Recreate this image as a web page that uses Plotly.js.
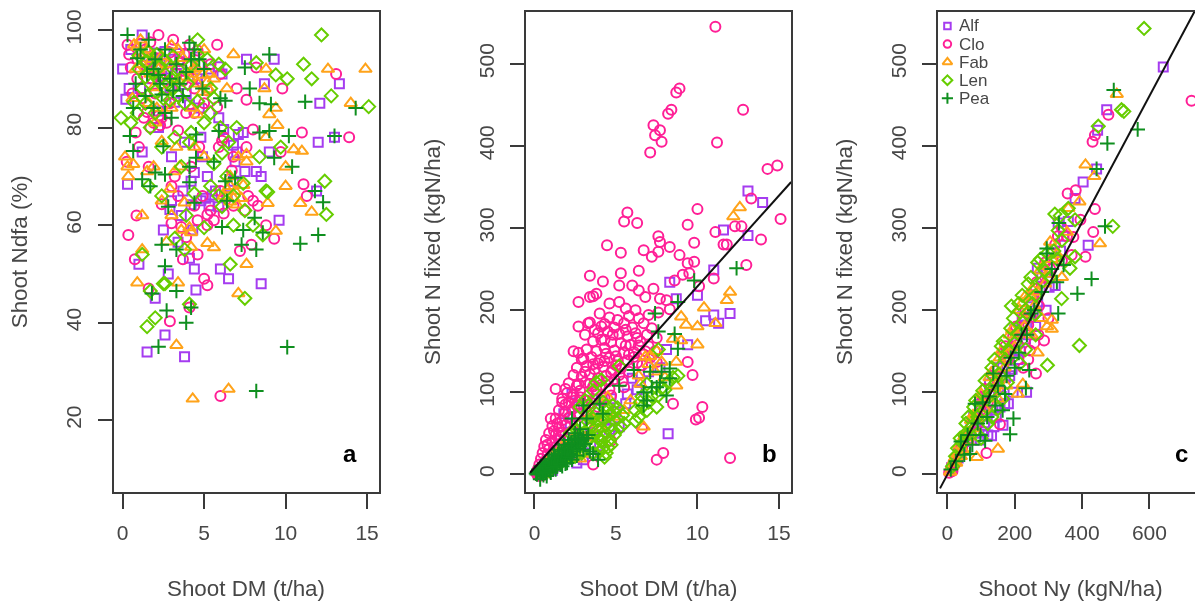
<!DOCTYPE html>
<html><head><meta charset="utf-8">
<script src="https://cdn.plot.ly/plotly-3.0.1.min.js"></script>
<style>html,body{margin:0;padding:0;width:1195px;height:601px;overflow:hidden;background:#fff}#c{width:1210px;height:601px;filter:blur(0.45px)}</style>
</head><body><div id="c"></div>
<script>
const species=["Alf","Clo","Fab","Len","Pea"];
const xTitleA="Shoot DM (t/ha)", xTitleB="Shoot DM (t/ha)", xTitleC="Shoot Ny (kgN/ha)";
const yTitleA="Shoot Ndfa (%)", yTitleB="Shoot N fixed (kgN/ha)", yTitleC="Shoot N fixed (kgN/ha)";
const panelLetters=["a","b","c"];

// Panel a: Shoot DM, Shoot Ndfa
const aAlf=[[9.3,94],[7.6,94],[13.3,89],[12.1,85],[8.7,89],[0,92],[.2,85.8],[13,78],[12,77],[5.9,82],[7.1,78.6],[9,75],[7.5,71],[8.2,71],[8.5,70],[.3,68.4],[11.9,67],[9.6,61],[2.5,59],[4.4,51],[6,51],[6.5,49],[8.5,48],[4.5,46.7],[1,52],[2,45],[2.8,50],[3,74],[1.2,75],[2.2,80],[2.6,37.5],[1.5,34],[3.8,33],
[.5,96],[1.2,99],[1.8,93],[2.3,94],[2.7,92],[3.1,94],[3.6,92],[4.4,94.5],[4.7,93],[5.3,92],[5.9,92.5],[6.1,91],[1.1,88],[1.8,90],[2.9,88],[3.9,87],[4.6,90],[5.1,89.5],[.4,88],[4.8,78],[3.8,77],[4.9,74],[5.7,67],[6.4,66],[4.8,65],[5.3,64],[3,65],[3.6,62],[4.2,69],[4.3,59],[5.2,70],[6.8,69],[7,75],[7.4,79],[6.4,66],[5.1,65.5],
[2,95.3],[2.6,95.6],[3.5,95.2],[1.6,94.6],[2.1,92.2],[3.3,91.1],[4,93.1],[2.4,90.6],[1.4,92.8],[3.2,85.2],[4.1,84.7],[4.7,84],[2.2,83.4],[6.8,76.4],[6.2,79.6],[6.9,73],[4.4,70.8],[3.7,67],[2.9,63.2],[4.2,64.2],[5.9,63.8],[5.5,66.2],[3.4,56.5],[4.1,53.2]];
const aClo=[[2.2,99],[3.1,98],[5.8,97],[8.2,92.3],[13.1,91],[7,88],[9.8,88],[7.6,85.7],[11,79],[13.9,78],[8,79.6],[6.1,77.3],[9.7,75],[1.6,72],[.25,73],[.35,58],[.85,62],[11.1,68.4],[11.3,66],[8.3,64],[9.3,57.2],[8.8,60],[7.9,56],[7.2,54.7],[5.2,60],[4.6,54],[3.7,53],[.75,53],[5,49],[5.2,47.7],[1.6,47],[6,25],[4.1,43.1],[2.9,40.3],
[.3,97],[.4,95],[.9,94],[1.4,96],[1.8,90],[2.6,93],[3.3,91],[3.8,95],[4.3,90],[4.8,93],[5.4,93],[6,91],[.6,87],[1.2,86],[4.4,88],[4.9,84],[2.9,85],[3.9,83],[4.4,83],[5,85],[1.3,82],[1.9,81],[2.4,82],[2.7,81],[1.7,80],[.8,79],[1,76],[6.2,78],[7.6,76],[6.8,74],[4.2,72],[4.4,64],[3.4,66],[2.4,64.3],[3,68],[4.9,66],[5.4,63],[5.6,61],[6,67],[7.7,66],[8,65],[6.8,64],[4.6,61],[3.2,70],[3.9,57.5],
[.5,92.3],[1.1,97.2],[1.7,97.5],[2.1,94.2],[2.9,95.4],[3.5,93.6],[4.1,97],[4.6,95.8],[2.3,90.4],[.9,90],[1.5,92],[3,88.2],[3.7,89.6],[2,87],[5.2,87.6],[5.8,84.2],[2.3,80.5],[2.2,82.4],[1.5,83.2],[3.4,79.4],[4.7,76],[5.9,76],[6.7,71.2],[7.5,63],[6.2,62.4],[5.2,62.2],[3.6,59.6],[3,60.4]];
const aFab=[[6.8,95],[12.6,92],[14.9,92],[8.8,92],[6.4,88],[8.7,88],[14,85],[9.4,84],[9,82.7],[9.5,80.5],[8.8,78],[10.5,75.5],[11,75.2],[10,72],[7.6,74.5],[7.1,74],[.35,70],[.65,72.5],[.15,74],[4.4,76],[10,68],[8.9,64.5],[10.9,64.5],[11.6,62.7],[6.8,65.5],[6.4,67.3],[1.2,62],[9.4,58.8],[2.9,67.4],[4.2,55.5],[5.2,56.3],[5.6,55.4],[1.2,55],[7.6,52],[.9,48.2],[3.4,48.2],[7.1,46],[4.1,59.5],[4.3,24.4],[6.5,26.4],[3.3,35.4],
[.7,97],[1,95],[1.5,96],[1.2,93],[.8,92],[1.8,94],[2.2,92],[2.8,93],[3.4,96],[4.2,91],[4.6,89],[5,96],[5.3,91],[5.6,90],[4.3,92],[.6,86],[1.6,85],[2.1,84],[3,84],[4.2,84],[4.6,82.7],[2,81],[3.3,76],[3.5,72],[3.2,71],[5,74],[6.6,70],[6.9,67],[7.3,65.5],[3,62],[2.4,65],[3.6,59],[4.2,58.5],[1.5,71],[1.9,72],[.3,72],[6.2,66],[7.6,73],
[1.1,98],[1.3,95],[.9,96.5],[1.7,91],[2.4,94.6],[3,96.8],[3.7,94.2],[4.1,90.2],[4.5,92.3],[4.9,90.8],[5.2,89.3],[4.9,87.3],[5.3,87.8],[1.9,88.2],[2.6,87.4],[3.4,89.8],[2.4,77.2],[6.6,68],[7,64.2],[6.6,64.8],[7.4,68.2],[3.8,64.6],[2.7,56.6]];
const aLen=[[12.2,99],[11.1,93],[11.6,90],[12.8,86.5],[15.1,84.3],[12.4,69],[12.5,62.2],[8.8,67],[10.1,90],[9.4,90.8],[8.2,93.3],[6.6,52],[7.5,45],[3.2,57.3],[1.2,54],[2.5,48],[4.1,43.8],[2,41],[1.5,39.2],[1.7,46.5],[2.6,48],
[4.6,98],[2.1,95],[1,92],[1.5,93.5],[1.9,91],[2.6,91],[3,90],[3.4,92],[4,89],[4.6,95],[5.2,94],[5.9,93],[6.3,92],[1.2,88],[2,87.5],[2.5,86],[3.1,88],[3.8,85],[5.4,88],[5.6,86],[5.4,83],[5,81],[-.1,82],[.5,81],[.9,83],[2,83],[1.7,80],[4.2,79],[3.2,78],[4.1,77],[6,80],[6.5,77],[7,80],[8.4,74],[9.7,76],[2.4,76],[3.6,72],[5.4,68],[6.4,70],[6.8,66],[7.5,63],[8,60],[8.6,58],[6.8,60],[5,59.5],[2.4,66],[1.6,68],[3.9,62],[4.4,66.5],[8.9,66.8],[3.8,55],
[1,94.8],[1.6,95.5],[2.6,93.8],[3.1,94.6],[2.3,92.6],[3.6,90.2],[4.2,92.8],[1.4,90.4],[2.8,89],[2.2,89.8],[3.4,86.6],[2.9,85.6],[4.6,85.4],[.7,85.2],[1.4,85],[6.1,74.8],[5.6,72.6],[7.4,68.6],[5.9,66],[6.1,63.8]];
const aPea=[[.3,99],[1.6,98],[4.1,97.4],[9,95],[7.5,92.3],[7.8,88],[11.2,85.3],[14.3,84],[6,86],[6.3,85.5],[8.4,85],[9.1,84.8],[.65,84],[2.4,86.8],[3.7,86.5],[1.4,86.5],[13,78.3],[10.2,78.3],[9,79.3],[8.4,79],[5.9,79.3],[4.5,78.6],[.45,78.3],[2.5,76.2],[.65,75.2],[10.4,72],[9.3,73.8],[5.6,73],[4.5,73.8],[4.1,72],[2,70.8],[2.6,70.4],[1.2,69.4],[1.7,68],[6.3,69],[6.9,69.7],[11.8,67],[12.3,64.7],[4.4,64.6],[6.4,65],[8.1,61.5],[6.1,59.6],[7.4,59],[8.6,58.5],[12,58],[10.9,56.2],[7.3,56],[8.2,55],[3.3,55],[2.4,56],[2.6,51.6],[1.8,46],[3.3,46.5],[2.7,42.5],[4.2,43.1],[3.9,40],[2.2,35.1],[10.1,35],[8.2,26],
[1.1,96],[2,94],[2.6,96],[3.3,93],[4.4,96],[5,92],[4.7,94],[1.5,91],[2.9,90],[3.5,89],[2.3,89],[.8,89],[4.9,88],[3,82],[2.6,83],[1.9,84],[1.9,92],[2.2,90.8],[3.1,87.6],[4.2,94],[.9,94.2],[3.9,91.4],[2.8,63.8],[4.1,68.8]];

// Panel b: Shoot DM, Shoot N fixed
const bAlf=[[13.1,345],[14,331],[11.6,297.5],[13.1,291],[11,249],[8.3,234],[10,218],[8.7,214],[12,196],[11,194],[10.5,187],[11.3,184],[8.2,49.6],[5.2,58],[2.3,98],[5.7,98],[6,117],[9.4,158],[7,125],[6.5,112],[4.6,55],[4,35],[3.5,26],[3,18],[2.6,14],[1.4,10],[1.1,5],[2,30],[1.6,42],[2.2,62],[1.8,74],[2.7,82],[3.2,72],[.6,12],[.9,18],[1.3,28],[5,76],[4.4,68],[3.6,48],[4.1,90],[2.9,50],[5.6,86],[6.3,103],[4.7,92],[2.5,40],[3.4,62],[8.1,152],[7.7,130]];
const bClo=[[11.1,545],[8.9,470],[8.7,465],[8.4,444],[8.2,439],[7.3,425],[7.7,419],[7.4,413],[7.8,405],[7.1,392],[12.8,444],[11.2,404],[14.9,376],[14.3,372],[15.1,311],[13.3,336],[10,323],[5.7,319],[5.5,308],[6.3,306],[9.4,304],[11.1,295],[12.3,302],[12.7,302],[11.6,280],[11.8,280],[13.9,286],[9.8,282],[7.6,290],[7.7,283],[8.3,277],[4.45,279],[5.3,270],[6.7,273],[7.6,271],[7.2,265],[8.9,267],[9.4,257],[9.8,259],[13,255],[11,238.5],[3.4,242],[4.2,235],[6.4,248],[5.3,245],[5.2,230],[6,230],[6.4,224],[7.3,226],[2.7,210],[3.4,216],[3.6,217],[3.8,220],[5.2,210],[6.8,216],[7.7,214],[8.1,212],[8.6,236],[9.1,243],[9.5,245],[10.1,229],[4,196],[5.6,202],[6.2,200],[8.3,201],[2.7,180],[3.3,184],[3.4,185],[2.7,148],[2.9,140],[2.4,150],[1.9,104],[1.3,104],[1.7,92],[1,68],[10.3,82],[10.1,69],[9.9,67],[12,20],[7.5,18],[7.9,26],[3.6,12],[8.5,86],[9.4,137],[9.7,121],[6.6,56],[4.7,41],
[4.6,191],[5.1,188],[5.8,193],[6.4,190],[7,194],[7.6,197],[4.3,183],[4.9,179],[5.5,184],[6,179],[6.7,184],[7.2,178],[3.9,172],[4.5,174],[5.2,171],[5.7,168],[6.2,172],[6.9,170],[7.5,166],[3.6,162],[4.1,164],[4.7,161],[5.3,160],[5.9,158],[6.5,162],[7,156],[3.2,152],[3.8,150],[4.3,154],[4.9,151],[5.5,148],[6.1,149],[6.7,146],[3,141],[3.5,143],[4,139],[4.6,142],[5.1,138],[5.7,139],[6.3,136],[2.6,130],[3.2,132],[3.7,128],[4.2,131],[4.8,127],[5.3,129],[5.8,125],[2.4,121],[2.9,119],[3.4,122],[3.9,117],[4.4,120],[4.9,116],[5.4,113],[2.1,111],[2.6,108],[3.1,112],[3.6,107],[4.1,109],[4.6,104],[2,99],[2.4,97],[2.8,102],[3.3,96],[3.8,98],[4.3,93],[1.7,88],[2.1,87],[2.5,90],[3,85],[3.5,87],[1.5,78],[1.9,76],[2.3,79],[2.7,74],[3.2,76],[1.3,68],[1.7,66],[2.1,69],[2.5,63],[1.1,59],[1.5,57],[1.9,60],[2.3,53],[.9,50],[1.3,48],[1.7,51],[2.1,44],[.7,42],[1.1,39],[1.5,42],[1.9,35],[.6,34],[.9,31],[1.3,33],[.5,26],[.8,24],[1.1,26],[.4,19],[.7,17],[1,19],[.3,12],[.5,10],[.8,12],[.2,6],[.4,4],[.6,6],[.1,2],[.3,-2],[.2,-1],[.5,-1],
[4.6,208],[3.1,170],[3.7,176],[4.3,164],[5.8,146],[4.4,147],[5,133],[6.4,157],[6.8,150],[7.4,150],[7.1,142],[7.5,137],[3.4,110],[4.5,113],[3.9,135],[2.8,94],[3.9,82],[3.4,68],[4.7,96],[5.5,106],
[4.1,180],[4.8,170],[5.6,176],[6.3,166],[5,144],[5.6,157],[6.1,143],[6.6,133],[4.3,138],[3.6,134],[3.1,125],[4.7,124],[5.2,121],[3.8,103],[3.2,90],[2.6,84],[2.2,70],[1.6,47],[1.2,53],[.8,36],[1.4,62],[1.9,85],[2.3,94],[2.7,110]];
const bFab=[[12.6,325],[12.2,314],[12,222],[11.8,212],[10.4,203],[9,192],[9.3,182],[10,180],[11.1,184],[10,158],[8.5,165],[9,163],[7.1,144],[6.8,143],[7.8,137],[8.7,137],[4.5,94],[3.4,72],[5.5,78],[2.8,19],[6.7,58],[7.5,150],[6.5,110],[7.4,125],[8,118],[8.7,108],[4.4,70],[3.8,62],[3.1,45],[2.6,38],[2.2,28],[1.8,22],[1.4,14],[1,8],[.5,3],[2.3,42],[3,25],[4.1,56],[4.9,70],[5.9,90],[6.4,120],[7,134],[3.5,48],[1.7,34],[1.2,24],[.8,15]];
const bLen=[[7.6,152],[5.2,132],[4.1,115],[3.1,90],[8.8,120],[6.9,110],[4.3,21],[7.5,82],[6.6,82],[7.2,95],[7.8,105],[8.2,112],[8.5,118],[6.6,95],[6.2,78],[6.4,70],[7,88],[3.8,112],[3.6,102],[2.8,82],[3.3,84],[4.2,88],[4.5,78],[4.9,76],[5.1,68],[5.5,62],[4.2,68],[4.7,60],[4.3,52],[3.9,46],[4.1,40],[3.7,36],[4.5,33],[4,28],[3.5,58],[3.1,52],[2.7,45],[2.3,36],[1.9,30],[1.5,22],[1.1,14],[.8,10],[.5,4],[3.8,74],[5.3,58],[4.9,48],[3.1,32],[2.5,22],
[4.4,84],[4.8,84],[4.6,72],[5.1,81],[5.4,72],[3.9,66],[4.4,60],[4.8,54],[4.2,46],[4.6,42],[3.6,68],[3.3,64],[3.9,54],[3.4,44],[2.9,62],[2.6,54],[2.2,50],[7.6,96],[8,103],[6.9,78],[6.2,65],[6.5,88],[4.7,36],[4.2,32],[4.4,26],[3.6,26],[2.9,26],[2.1,24],[1.7,16],[1.3,10],[.9,4]];
const bPea=[[12.4,251],[9.8,236],[8.8,210],[7.4,196],[7.6,174],[8.6,171],[8.8,153],[6.1,127],[5.2,108],[7.1,125],[7.8,125],[8.3,129],[8.3,117],[6.7,100],[7.5,106],[8.1,96],[6.7,84],[4,86],[4.2,74],[3,84],[2.3,68],[3.2,68],[7.7,112],[7.2,106],[6.9,90],
[.1,1],[.2,3],[.3,5],[.4,2],[.5,7],[.6,4],[.7,9],[.8,6],[.9,12],[1,9],[1.1,15],[1.2,11],[1.3,18],[1.4,14],[1.5,21],[1.6,16],[1.7,24],[1.8,19],[1.9,28],[2,22],[2.1,31],[2.2,25],[2.3,34],[2.4,28],[2.5,38],[2.6,31],[2.7,41],[2.8,34],[3,44],[3.1,37],[3.3,48],[3.4,28],[3.6,25],[3.9,18],[.4,10],[.6,13],[.9,18],[1.2,24],[1.5,30],[1.8,36],[2.1,42],[2.5,50],[2.8,55],[.15,0],[.35,-6],[.55,-1],[.75,-2],[1,2],[1.3,6],[1.7,10],[2,14],[2.3,18],
[.25,6],[.45,8],[.65,11],[.85,15],[1.05,19],[1.25,21],[1.45,25],[1.65,28],[1.85,32],[2.05,35],[2.25,38],[2.45,44],[2.65,47],[2.9,42],[3.2,44],[.5,1],[.7,3],[.95,5],[1.15,8],[1.4,10],[1.6,12],[1.9,13],[2.2,21],[2.6,23],[3,30]];

// Panel c: Shoot Ny, Shoot N fixed
const cAlf=[[641,496],[473,444],[446,419],[443,372],[403,356],[379,336],[359,308],[418,279],[329,306],[267,251],[235,100],[181,86],[293,200],[131,47],[320,230],
[12,8],[25,18],[40,30],[55,32],[70,60],[85,50],[100,85],[110,60],[125,110],[135,78],[150,130],[160,95],[175,150],[185,120],[200,176],[210,140],[222,192],[232,165],[250,215],[262,180],[280,240],[345,290],[310,270],[120,48],[145,70],[165,60],[195,100],
[32,20],[48,40],[64,44],[78,70],[92,66],[104,92],[116,76],[128,98],[140,112],[152,104],[164,132],[172,118],[183,140],[192,128],[204,160],[216,150],[228,182],[240,170],[255,196],[268,210],[292,246],[302,228],[336,272],[98,42],[108,52],[138,58],[156,82],[170,86]];
const cClo=[[725,455],[478,438],[438,413],[431,405],[357,342],[381,346],[438,323],[433,295],[374,289],[410,265],[369,267],[287,163],[263,123],[245,151],[116,26],[156,61],[265,234],
[5,2],[10,6],[18,14],[28,18],[38,24],[50,44],[62,42],[75,68],[90,62],[105,95],[120,88],[135,120],[150,112],[165,148],[180,140],[195,168],[210,158],[225,190],[240,182],[255,218],[272,205],[290,258],[305,250],[320,280],[340,300],[270,170],[225,130],[340,260],[355,290],[395,310],
[15,4],[22,12],[34,30],[44,32],[56,46],[68,50],[82,72],[98,78],[112,104],[128,98],[142,126],[158,120],[172,156],[188,154],[204,180],[218,172],[232,200],[248,192],[262,226],[280,228],[298,240],[312,262],[328,290],[258,160],[240,140],[300,190]];
const cFab=[[503,463],[410,377],[436,363],[392,332],[359,324],[305,283],[453,281],[150,31],[310,177],[310,188],[230,216],[224,110],[209,98],[87,21],
[8,3],[14,10],[22,20],[30,26],[40,22],[50,46],[60,40],[70,66],[82,56],[95,92],[110,80],[125,118],[140,105],[155,142],[170,130],[185,170],[200,155],[215,200],[228,180],[245,218],[258,205],[275,248],[290,232],[310,262],[325,268],[340,240],[150,92],[175,108],[355,295],
[18,16],[26,14],[36,36],[46,30],[56,52],[66,46],[76,72],[88,66],[100,98],[116,94],[130,124],[146,118],[160,150],[178,146],[192,176],[206,170],[222,208],[236,196],[252,226],[268,222],[284,254],[300,244],[296,180],[280,190],[250,170],[268,148]];
const cLen=[[584,543],[517,444],[524,442],[448,424],[319,317],[359,324],[379,310],[329,297],[491,302],[392,157],[297,133],[339,214],[364,251],[379,265],
[15,10],[30,32],[45,38],[55,62],[65,50],[78,82],[90,70],[105,102],[118,92],[132,130],[145,112],[160,156],[172,140],[188,178],[200,160],[212,208],[224,185],[240,232],[252,208],[268,258],[282,235],[298,270],[305,240],[340,285],[350,260],[335,315],[120,62],[150,80],[178,112],[215,135],[190,205],[260,195],
[24,22],[38,44],[50,48],[62,70],[72,58],[84,90],[98,74],[112,114],[126,100],[140,140],[154,122],[166,162],[182,150],[196,190],[208,172],[222,218],[236,196],[248,240],[262,218],[276,262],[290,248],[316,272],[326,262],[100,44],[132,70],[164,92],[232,152],[262,170]];
const cPea=[[494,468],[565,420],[475,403],[443,372],[468,302],[331,306],[295,275],[428,238],[386,220],[295,269],[325,234],[329,196],[243,127],[233,105],[196,68],[186,49],[171,98],[164,78],[112,41],[67,25],[136,123],[82,86],
[10,6],[25,16],[40,40],[60,48],[90,62],[105,88],[125,95],[150,108],[200,130],[220,170],[258,200],[280,222],[310,250],[345,255],[50,24],[74,36],[98,48],[118,70],[142,84],[176,120],[188,142],[212,148],[236,170],[248,196]];
const fitB=[[-.27,2],[15.75,356]];
const fitC=[[-22,-17],[750,576]];

const colors=["#a53cf0","#ff1f96","#ffa31a","#66cd00","#0f8f1f"];
const symbols=["square-open","circle-open","triangle-up-open","diamond-open","cross-thin-open"];
const sizes=[9,10,11,10,10.5];
const W=1210,H=601;
const dom=(a,b)=>[a/W,b/W];
const inkCol="#3a3a3a", txtCol="#474747";
const pts=(arr,xa,ya,i)=>({type:"scatter",mode:"markers",name:species[i],showlegend:false,x:arr.map(p=>p[0]),y:arr.map(p=>p[1]),xaxis:xa,yaxis:ya,
  marker:{symbol:symbols[i],size:sizes[i],color:colors[i],line:{color:colors[i],width:2}},hoverinfo:"skip"});
const data=[];
[aAlf,aClo,aFab,aLen,aPea].forEach((s,i)=>data.push(pts(s,"x","y",i)));
[bAlf,bClo,bFab,bLen,bPea].forEach((s,i)=>data.push(pts(s,"x2","y2",i)));
[cAlf,cClo,cFab,cLen,cPea].forEach((s,i)=>data.push(pts(s,"x3","y3",i)));
const line=(f,xa,ya)=>({type:"scatter",mode:"lines",showlegend:false,x:f.map(p=>p[0]),y:f.map(p=>p[1]),xaxis:xa,yaxis:ya,line:{color:"#111",width:2},hoverinfo:"skip"});
data.push(line(fitB,"x2","y2"),line(fitC,"x3","y3"));
// key glyphs, placed in the corner of panel c through its own axes
const keyX=0, keyY=[546,524,502,480,458];
species.forEach((s,i)=>data.push({type:"scatter",mode:"markers",showlegend:false,x:[keyX],y:[keyY[i]],xaxis:"x3",yaxis:"y3",
  marker:{symbol:symbols[i],size:sizes[i]-2.5,color:colors[i],line:{color:colors[i],width:2}},hoverinfo:"skip"}));
const family="Liberation Sans, Arial, sans-serif";
const tickFont={family,size:21,color:txtCol}, titleFont={family,size:22.4,color:txtCol};
const xax=(domain,range,tick,title,anchor)=>({domain:dom(...domain),range,tickvals:tick,ticktext:tick.map(String),anchor,
  showgrid:false,zeroline:false,showline:true,mirror:true,linecolor:inkCol,linewidth:2,ticks:"outside",ticklen:15,tickwidth:2,tickcolor:inkCol,
  tickfont:tickFont,tickangle:0,ticklabelstandoff:6,title:{text:title,font:titleFont,standoff:38}});
const yax=(range,tick,title,anchor)=>({domain:[(H-491.5)/H,(H-12)/H],range,tickvals:tick,ticktext:tick.map(String),anchor,
  showgrid:false,zeroline:false,showline:true,mirror:true,linecolor:inkCol,linewidth:2,ticks:"outside",ticklen:14,tickwidth:2,tickcolor:inkCol,
  tickfont:tickFont,tickangle:-90,ticklabelstandoff:8,title:{text:title,font:titleFont,standoff:28}});
const yBTicks=[0,100,200,300,400,500];
const letter=(t,xr,yr,x,y)=>({text:"<b>"+t+"</b>",xref:xr,yref:yr,x,y,showarrow:false,font:{family,size:24,color:"#000"},xanchor:"center",yanchor:"middle"});
const annotations=[letter(panelLetters[0],"x","y",13.95,13.1),letter(panelLetters[1],"x2","y2",14.45,25.6),letter(panelLetters[2],"x3","y3",696,25.6)];
species.forEach((s,i)=>annotations.push({text:s,xref:"x3",yref:"y3",x:27,y:keyY[i],showarrow:false,xanchor:"left",yanchor:"middle",font:{family,size:17,color:txtCol}}));
const layout={width:W,height:H,margin:{l:0,r:0,t:0,b:0},paper_bgcolor:"#fff",plot_bgcolor:"#fff",showlegend:false,font:tickFont,
  xaxis:xax([113.5,378.5],[-.56,15.7],[0,5,10,15],xTitleA,"y"),
  yaxis:yax([5.4,103.7],[20,40,60,80,100],yTitleA,"x"),
  xaxis2:xax([526,791],[-.52,15.74],[0,5,10,15],xTitleB,"y2"),
  yaxis2:yax([-20.8,563],yBTicks,yTitleB,"x2"),
  xaxis3:xax([938,1203],[-28,759],[0,200,400,600],xTitleC,"y3"),
  yaxis3:yax([-20.8,563],yBTicks,yTitleC,"x3"),
  annotations};
Plotly.newPlot("c",data,layout,{staticPlot:true,displayModeBar:false});
</script></body></html>
